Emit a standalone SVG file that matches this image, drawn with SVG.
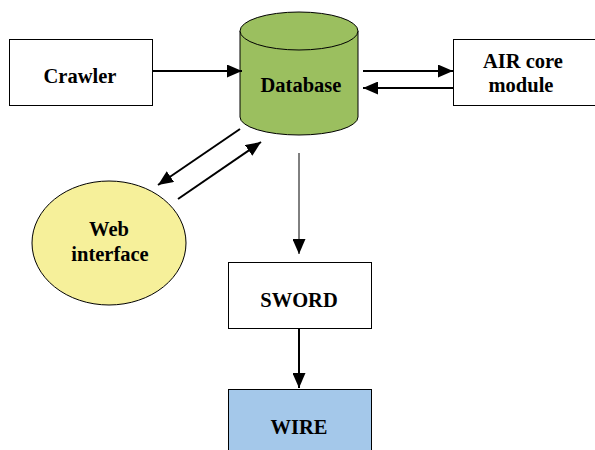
<svg xmlns="http://www.w3.org/2000/svg" width="595" height="450" viewBox="0 0 595 450">
<style>
.box{stroke:#000;stroke-width:1}
.lbl{font-family:"Liberation Serif","Times New Roman",serif;font-weight:bold;font-size:20.5px;text-anchor:middle;fill:#000}
.thick{stroke:#000;stroke-width:2;fill:none}
.thin{stroke:#000;stroke-width:1;fill:none}
</style>
<defs>
<marker id="ah" markerUnits="userSpaceOnUse" markerWidth="15" markerHeight="13" refX="15" refY="6.5" orient="auto">
<path d="M0,0 L15,6.5 L0,13 z" fill="#000"/>
</marker>
</defs>
<rect width="595" height="450" fill="#fff"/>
<g id="crawler">
<rect class="box" x="9.5" y="39.5" width="143" height="66" fill="#fff"/>
<text class="lbl" x="80" y="83">Crawler</text>
</g>
<g id="database">
<path class="box" d="M240,31 L240,117 A59,18 0 0 0 358,117 L358,31 Z" fill="#9BBF5F"/>
<ellipse class="box" cx="299" cy="31" rx="59" ry="19" fill="#9BBF5F"/>
<text class="lbl" x="301" y="92">Database</text>
</g>
<g id="air">
<rect class="box" x="453.5" y="39.5" width="150" height="66" fill="#fff"/>
<text class="lbl" x="523" y="68">AIR core</text>
<text class="lbl" x="521" y="92">module</text>
</g>
<g id="web">
<ellipse class="box" cx="109" cy="243" rx="77" ry="62" fill="#F6F09A"/>
<text class="lbl" x="109" y="236">Web</text>
<text class="lbl" x="110" y="261">interface</text>
</g>
<g id="sword">
<rect class="box" x="228.5" y="262.5" width="143" height="66" fill="#fff"/>
<text class="lbl" x="299" y="307">SWORD</text>
</g>
<g id="wire">
<rect class="box" x="228.5" y="389.5" width="143" height="70" fill="#A4C8EA"/>
<text class="lbl" x="299" y="434">WIRE</text>
</g>
<g id="connectors">
<line class="thick" x1="152" y1="71" x2="242" y2="71" marker-end="url(#ah)"/>
<line class="thick" x1="363" y1="71" x2="453" y2="71" marker-end="url(#ah)"/>
<line class="thick" x1="453" y1="88" x2="363" y2="88" marker-end="url(#ah)"/>
<line class="thick" x1="240" y1="129" x2="158" y2="185" marker-end="url(#ah)"/>
<line class="thick" x1="178" y1="199" x2="261" y2="142" marker-end="url(#ah)"/>
<line class="thin" x1="299" y1="153" x2="299" y2="254" marker-end="url(#ah)"/>
<line class="thick" x1="299" y1="329" x2="299" y2="388" marker-end="url(#ah)"/>
</g>
</svg>
